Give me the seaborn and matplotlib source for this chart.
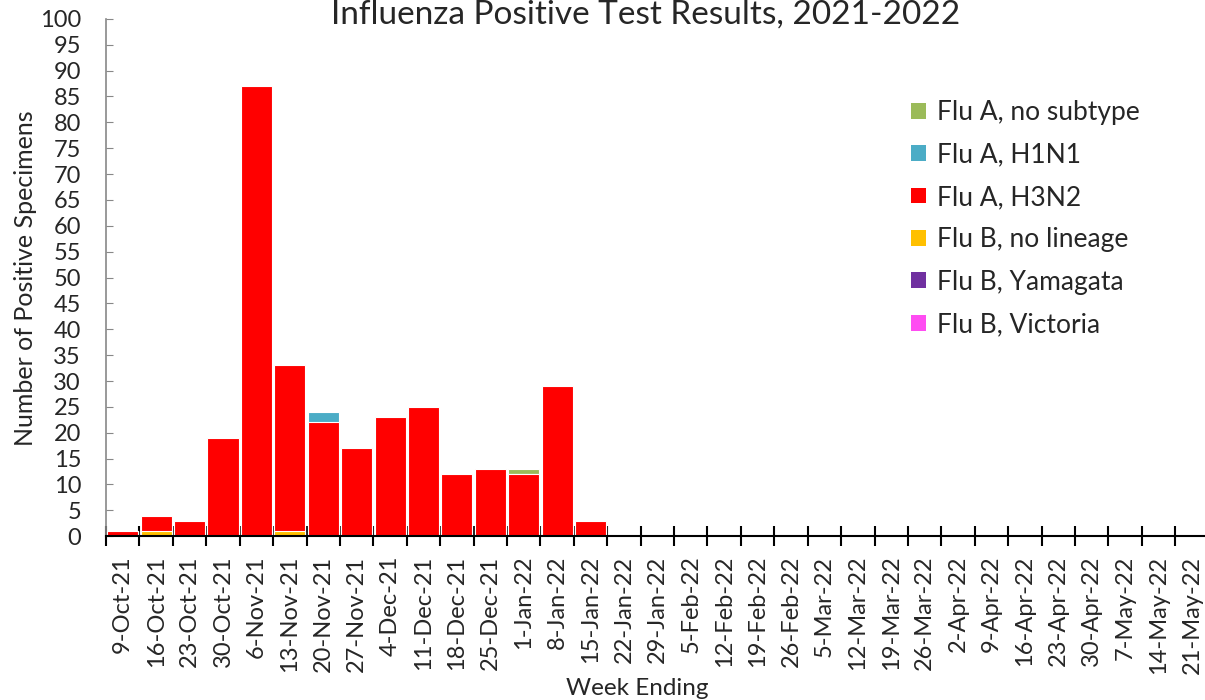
import numpy as np
import pandas as pd
import matplotlib
matplotlib.use("Agg")
import matplotlib.pyplot as plt
from matplotlib.patches import Patch
import seaborn as sns

# Week ending labels
weeks = ["9-Oct-21", "16-Oct-21", "23-Oct-21", "30-Oct-21", "6-Nov-21", "13-Nov-21",
         "20-Nov-21", "27-Nov-21", "4-Dec-21", "11-Dec-21", "18-Dec-21", "25-Dec-21",
         "1-Jan-22", "8-Jan-22", "15-Jan-22", "22-Jan-22", "29-Jan-22", "5-Feb-22",
         "12-Feb-22", "19-Feb-22", "26-Feb-22", "5-Mar-22", "12-Mar-22", "19-Mar-22",
         "26-Mar-22", "2-Apr-22", "9-Apr-22", "16-Apr-22", "23-Apr-22", "30-Apr-22",
         "7-May-22", "14-May-22", "21-May-22"]

# Counts per type
flu_b_victoria = [0] * 33
flu_b_yamagata = [0] * 33
flu_b_no_lineage = [0, 1, 0, 0, 0, 1, 0, 0, 0, 0, 0, 0, 0, 0, 0] + [0] * 18
flu_a_h3n2 = [1, 3, 3, 19, 87, 32, 22, 17, 23, 25, 12, 13, 12, 29, 3] + [0] * 18
flu_a_h1n1 = [0, 0, 0, 0, 0, 0, 2, 0, 0, 0, 0, 0, 0, 0, 0] + [0] * 18
flu_a_no_subtype = [0, 0, 0, 0, 0, 0, 0, 0, 0, 0, 0, 0, 1, 0, 0] + [0] * 18

series_names = ["Flu A, no subtype", "Flu A, H1N1", "Flu A, H3N2",
                "Flu B, no lineage", "Flu B, Yamagata", "Flu B, Victoria"]
series_colors = ["#9BBB59", "#4BACC6", "#FF0000", "#FFC000", "#7030A0", "#FF4DF2"]

df = pd.DataFrame({
    "week": weeks,
    "Flu B, Victoria": flu_b_victoria,
    "Flu B, Yamagata": flu_b_yamagata,
    "Flu B, no lineage": flu_b_no_lineage,
    "Flu A, H3N2": flu_a_h3n2,
    "Flu A, H1N1": flu_a_h1n1,
    "Flu A, no subtype": flu_a_no_subtype,
})

sns.set_style("white")
plt.rcParams["font.family"] = ["Lato", "DejaVu Sans"]

fig = plt.figure(figsize=(12.05, 7), dpi=100)
ax = fig.add_axes([0.088, 0.234, 0.915, 0.739])

# stacked bars: draw cumulative totals from the top layer down
stack_order = series_names[::-1]  # bottom to top
cum = df[stack_order].cumsum(axis=1)
for name, color in zip(series_names, series_colors):
    sns.barplot(x=df["week"], y=cum[name], color=color, width=0.93,
                edgecolor="white", linewidth=0.8, saturation=1, ax=ax)

ax.set_ylim(0, 100)
ax.set_xlim(-0.5, len(weeks) - 0.5)
ax.set_yticks(np.arange(0, 101, 5))
ax.tick_params(axis="y", direction="in", length=5, color="#888888", labelsize=17,
               pad=18, left=True)
ax.set_xticks(range(len(weeks)))
ax.set_xticklabels(weeks, rotation=90)
ax.tick_params(axis="x", which="major", length=0, labelsize=17, pad=14)
ax.set_xticks(np.arange(-0.5, len(weeks), 1), minor=True)
ax.tick_params(axis="x", which="minor", direction="inout", length=14, width=1.5,
               color="black", bottom=True)

for side in ["top", "right"]:
    ax.spines[side].set_visible(False)
ax.spines["left"].set_color("#888888")
ax.spines["left"].set_linewidth(1.2)
ax.spines["bottom"].set_color("black")
ax.spines["bottom"].set_linewidth(1.5)
ax.spines["bottom"].set_zorder(5)

ax.set_xlabel("")
ax.set_ylabel("")
fig.text(0.021, 0.603, "Number of Positive Specimens", rotation=90, fontsize=18,
         ha="center", va="center")
fig.text(0.529, 0.016, "Week Ending", fontsize=17.5, ha="center", va="center")
fig.text(0.536, 1.0, "Influenza Positive Test Results, 2021-2022", fontsize=24,
         ha="center", va="top")

handles = [Patch(facecolor=c, edgecolor="none", label=n)
           for n, c in zip(series_names, series_colors)]
ax.legend(handles=handles, loc="upper left", bbox_to_anchor=(911 / 1205, 1 - 100 / 700),
          bbox_transform=fig.transFigure, frameon=False, fontsize=19,
          handlelength=0.55, handleheight=0.55, handletextpad=0.45,
          labelspacing=0.66, borderpad=0, borderaxespad=0)

fig.savefig("out.png", dpi=100)
